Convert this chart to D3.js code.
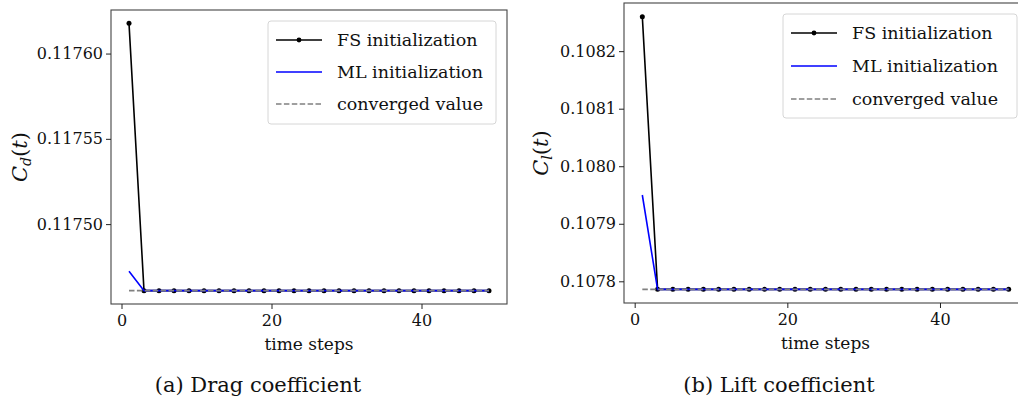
<!DOCTYPE html>
<html>
<head>
<meta charset="utf-8">
<script src="https://cdn.jsdelivr.net/npm/d3@7"></script>
<style>
  body { margin: 0; background: #fff; }
  svg text { font-family: "DejaVu Serif", serif !important; fill: #111; }
</style>
</head>
<body>
<div id="chart"></div>
<script>
// time steps shared by both panels
var steps = [1, 3, 5, 7, 9, 11, 13, 15, 17, 19, 21, 23, 25, 27, 29, 31, 33, 35, 37, 39, 41, 43, 45, 47, 49];

// drag coefficient
var dragFS = [0.1176177, 0.117461, 0.117461, 0.117461, 0.117461, 0.117461, 0.117461, 0.117461, 0.117461, 0.117461, 0.117461, 0.117461, 0.117461, 0.117461, 0.117461, 0.117461, 0.117461, 0.117461, 0.117461, 0.117461, 0.117461, 0.117461, 0.117461, 0.117461, 0.117461];
var dragML = [0.1174723, 0.117461, 0.117461, 0.117461, 0.117461, 0.117461, 0.117461, 0.117461, 0.117461, 0.117461, 0.117461, 0.117461, 0.117461, 0.117461, 0.117461, 0.117461, 0.117461, 0.117461, 0.117461, 0.117461, 0.117461, 0.117461, 0.117461, 0.117461, 0.117461];
var dragConverged = 0.117461;
var dragTicks = [0.11750, 0.11755, 0.11760];

// lift coefficient
var liftFS = [0.108260, 0.107786, 0.107786, 0.107786, 0.107786, 0.107786, 0.107786, 0.107786, 0.107786, 0.107786, 0.107786, 0.107786, 0.107786, 0.107786, 0.107786, 0.107786, 0.107786, 0.107786, 0.107786, 0.107786, 0.107786, 0.107786, 0.107786, 0.107786, 0.107786];
var liftML = [0.107950, 0.107786, 0.107786, 0.107786, 0.107786, 0.107786, 0.107786, 0.107786, 0.107786, 0.107786, 0.107786, 0.107786, 0.107786, 0.107786, 0.107786, 0.107786, 0.107786, 0.107786, 0.107786, 0.107786, 0.107786, 0.107786, 0.107786, 0.107786, 0.107786];
var liftConverged = 0.107786;
var liftTicks = [0.1078, 0.1079, 0.1080, 0.1081, 0.1082];

var xTicks = [0, 20, 40];
var legendLabels = ["FS initialization", "ML initialization", "converged value"];

var svgWidth = 1018;
var svgHeight = 409;
var serif = '"DejaVu Serif", serif';

var svg = d3.select("#chart")
  .append("svg")
  .attr("width", svgWidth)
  .attr("height", svgHeight)
  .style("font-family", serif);

function drawPanel(opts) {
  var box = opts.box;
  var g = svg.append("g");

  var x = d3.scaleLinear()
    .domain([-1.4, 51.4])
    .range([box.left, box.right]);

  var all = opts.fs.concat(opts.ml);
  var lo = d3.min(all), hi = d3.max(all);
  var pad = (hi - lo) * 0.05;
  var y = d3.scaleLinear()
    .domain([lo - pad, hi + pad])
    .range([box.bottom, box.top]);

  // frame
  g.append("rect")
    .attr("x", box.left)
    .attr("y", box.top)
    .attr("width", box.right - box.left)
    .attr("height", box.bottom - box.top)
    .attr("fill", "none")
    .attr("stroke", "#444")
    .attr("stroke-width", 1.1);

  var bottomAxis = d3.axisBottom(x).tickValues(xTicks).tickSize(5).tickFormat(d3.format("d"));
  var leftAxis = d3.axisLeft(y).tickValues(opts.yTicks).tickSize(5).tickFormat(d3.format(opts.fmt));

  var bx = g.append("g")
    .attr("transform", `translate(0, ${box.bottom})`)
    .call(bottomAxis)
    .attr("font-family", serif)
    .attr("font-size", 16);
  bx.select(".domain").remove();
  bx.selectAll("line").attr("stroke", "#222");
  bx.selectAll("text").attr("y", 9).attr("dy", "0.8em");

  var ly = g.append("g")
    .attr("transform", `translate(${box.left}, 0)`)
    .call(leftAxis)
    .attr("font-family", serif)
    .attr("font-size", 16);
  ly.select(".domain").remove();
  ly.selectAll("line").attr("stroke", "#222");
  ly.selectAll("text").attr("x", -8);

  var line = d3.line()
    .x((d, i) => x(steps[i]))
    .y(d => y(d));

  // FS initialization
  g.append("path")
    .datum(opts.fs)
    .attr("d", line)
    .attr("fill", "none")
    .attr("stroke", "#000")
    .attr("stroke-width", 1.6);

  g.selectAll(".fsdot")
    .data(opts.fs)
    .enter()
    .append("circle")
    .attr("class", "fsdot")
    .attr("cx", (d, i) => x(steps[i]))
    .attr("cy", d => y(d))
    .attr("r", 2.5)
    .attr("fill", "#000");

  // ML initialization
  g.append("path")
    .datum(opts.ml)
    .attr("d", line)
    .attr("fill", "none")
    .attr("stroke", "#0000ff")
    .attr("stroke-width", 1.6);

  // converged value
  g.append("line")
    .attr("x1", x(steps[0]))
    .attr("x2", x(steps[steps.length - 1]))
    .attr("y1", y(opts.conv))
    .attr("y2", y(opts.conv))
    .attr("stroke", "#808080")
    .attr("stroke-width", 1.6)
    .attr("stroke-dasharray", "5.5,2.4");

  // legend
  var lg = opts.legend;
  g.append("rect")
    .attr("x", lg.x)
    .attr("y", lg.y)
    .attr("width", lg.w)
    .attr("height", lg.h)
    .attr("rx", 3)
    .attr("fill", "#fff")
    .attr("fill-opacity", 0.85)
    .attr("stroke", "#d6d6d6");

  var styles = [
    { color: "#000", dash: null, dot: true },
    { color: "#0000ff", dash: null, dot: false },
    { color: "#808080", dash: "5.5,2.4", dot: false }
  ];

  legendLabels.forEach(function(lab, i) {
    var ry = lg.y + lg.row0 + i * lg.gap;
    var s = styles[i];
    g.append("line")
      .attr("x1", lg.x + 8)
      .attr("x2", lg.x + 54)
      .attr("y1", ry)
      .attr("y2", ry)
      .attr("stroke", s.color)
      .attr("stroke-width", 1.6)
      .attr("stroke-dasharray", s.dash);
    if (s.dot) {
      g.append("circle")
        .attr("cx", lg.x + 31)
        .attr("cy", ry)
        .attr("r", 2.4)
        .attr("fill", s.color);
    }
    g.append("text")
      .attr("x", lg.x + 69)
      .attr("y", ry)
      .attr("dy", "0.33em")
      .style("font-size", "17.5px")
      .text(lab);
  });

  // y label
  var yl = g.append("text")
    .attr("transform", `translate(${opts.ylabX}, ${(box.top + box.bottom) / 2}) rotate(-90)`)
    .attr("text-anchor", "middle")
    .style("font-size", "21px");
  yl.append("tspan").attr("font-style", "italic").text("C");
  yl.append("tspan").attr("font-style", "italic").attr("dy", "4").style("font-size", "14px").text(opts.sub);
  yl.append("tspan").attr("dy", "-4").text("(");
  yl.append("tspan").attr("font-style", "italic").text("t");
  yl.append("tspan").text(")");

  // x label
  g.append("text")
    .attr("x", (box.left + box.right) / 2)
    .attr("y", box.bottom + 46)
    .attr("text-anchor", "middle")
    .style("font-size", "17px")
    .text("time steps");

  // caption
  g.append("text")
    .attr("x", opts.capX)
    .attr("y", 392)
    .attr("text-anchor", "middle")
    .style("font-size", "21px")
    .text(opts.caption);
}

drawPanel({
  box: { left: 111, right: 507, top: 10, bottom: 304 },
  fs: dragFS, ml: dragML, conv: dragConverged,
  yTicks: dragTicks, fmt: ".5f", sub: "d",
  ylabX: 27, capX: 258,
  caption: "(a) Drag coefficient",
  legend: { x: 268, y: 21, w: 228, h: 103, row0: 19, gap: 32 }
});

drawPanel({
  box: { left: 624, right: 1027, top: 3, bottom: 303 },
  fs: liftFS, ml: liftML, conv: liftConverged,
  yTicks: liftTicks, fmt: ".4f", sub: "l",
  ylabX: 548, capX: 779,
  caption: "(b) Lift coefficient",
  legend: { x: 783, y: 14, w: 234, h: 104, row0: 19, gap: 33 }
});
</script>
</body>
</html>
